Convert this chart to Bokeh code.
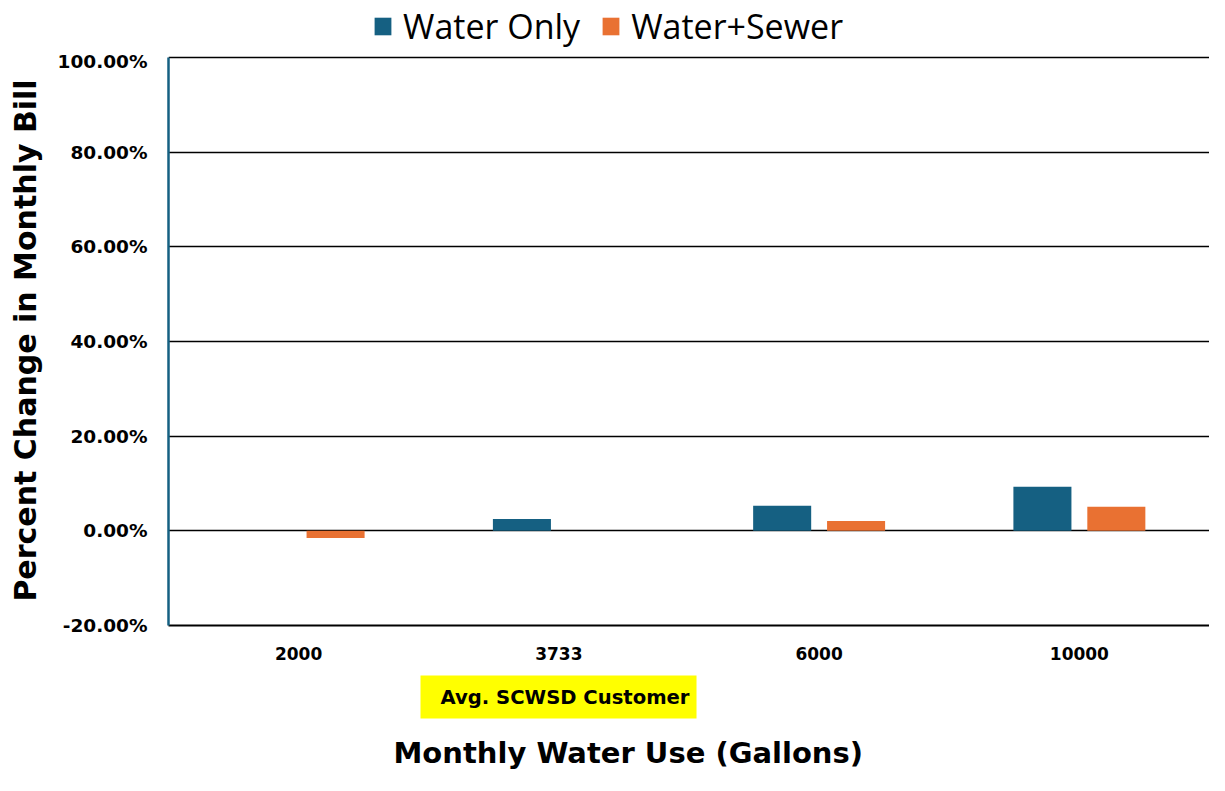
from bokeh.plotting import figure
from bokeh.layouts import column
from bokeh.models import (ColumnDataSource, FactorRange, Range1d, NumeralTickFormatter,
                          Legend, LegendItem, Title, FixedTicker)
from bokeh.transform import dodge
from bokeh.embed import file_html
from bokeh.resources import INLINE

categories = ["2000", "3733", "6000", "10000"]
water_only = [0.0, 0.025, 0.053, 0.093]
water_sewer = [-0.015, 0.0, 0.021, 0.051]
y_ticks = [-0.2, 0.0, 0.2, 0.4, 0.6, 0.8, 1.0]
series_names = ["Water Only", "Water+Sewer"]
series_colors = ["#156082", "#E97132"]

src = ColumnDataSource(dict(cat=categories, wo=water_only, ws=water_sewer))
xr = FactorRange(*categories, range_padding=0)

# ---------- legend strip (top): same series, drawn outside its visible y range ----------
lf = figure(width=1209, height=50, x_range=xr, y_range=Range1d(1, 2),
            x_axis_type=None, y_axis_type=None, output_backend="svg", toolbar_location=None,
            min_border=0)
lf.outline_line_color = None
lf.xgrid.grid_line_color = None
lf.ygrid.grid_line_color = None
l1 = lf.vbar(x=dodge("cat", -0.142, range=xr), top="wo", width=0.223, source=src,
             fill_color=series_colors[0], line_color=None)
l2 = lf.vbar(x=dodge("cat", 0.142, range=xr), top="ws", width=0.223, source=src,
             fill_color=series_colors[1], line_color=None)
legend = Legend(items=[LegendItem(label=series_names[0], renderers=[l1]),
                       LegendItem(label=series_names[1], renderers=[l2])],
                orientation="horizontal", location=(204, 1),
                label_text_font="Open Sans", label_text_font_size="34px",
                label_text_color="black",
                glyph_width=21, glyph_height=22, label_standoff=10, spacing=20,
                padding=0, margin=0, border_line_color=None,
                background_fill_alpha=0)
lf.add_layout(legend, "center")

# ---------- main chart ----------
p = figure(width=1209, height=725, x_range=xr,
           y_range=Range1d(-0.2, 1.0042), output_backend="svg", toolbar_location=None,
           min_border_left=168, min_border_right=0, min_border_top=5, min_border_bottom=150)
p.outline_line_color = None
p.background_fill_color = "white"

r1 = p.vbar(x=dodge("cat", -0.142, range=xr), top="wo", width=0.223, source=src,
            fill_color=series_colors[0], line_color=None)
r2 = p.vbar(x=dodge("cat", 0.142, range=xr), top="ws", width=0.223, source=src,
            fill_color=series_colors[1], line_color=None)

p.yaxis.ticker = FixedTicker(ticks=y_ticks)
p.yaxis.bounds = (-0.2, 1.0)
p.yaxis.formatter = NumeralTickFormatter(format="0.00%")
p.yaxis.major_label_text_font = "DejaVu Sans"
p.yaxis.major_label_text_font_style = "bold"
p.yaxis.major_label_text_font_size = "18.5px"
p.yaxis.major_label_text_color = "black"
p.yaxis.major_label_standoff = 21
p.yaxis.major_tick_line_color = None
p.yaxis.major_tick_out = 0
p.yaxis.major_tick_in = 0
p.yaxis.minor_tick_line_color = None
p.yaxis.axis_line_color = "#156082"
p.yaxis.axis_line_width = 2.5
p.yaxis.axis_label = "Percent Change in Monthly Bill"
p.yaxis.axis_label_text_font = "DejaVu Sans"
p.yaxis.axis_label_text_font_style = "bold"
p.yaxis.axis_label_text_font_size = "30px"
p.yaxis.axis_label_text_color = "black"
p.yaxis.axis_label_standoff = 12

p.xaxis.major_label_text_font = "DejaVu Sans"
p.xaxis.major_label_text_font_style = "bold"
p.xaxis.major_label_text_font_size = "17px"
p.xaxis.major_label_text_color = "black"
p.xaxis.major_label_standoff = 21
p.xaxis.major_tick_line_color = None
p.xaxis.major_tick_out = 0
p.xaxis.major_tick_in = 0
p.xaxis.axis_line_color = "black"
p.xaxis.axis_line_width = 2

p.xgrid.grid_line_color = None
p.ygrid.ticker = FixedTicker(ticks=y_ticks)
p.ygrid.grid_line_color = "black"
p.ygrid.grid_line_width = 1.5

# highlighted note under the axis
p.add_layout(Title(text="Avg. SCWSD Customer", align="left", offset=252, standoff=22,
                   text_font="DejaVu Sans", text_font_style="bold", text_font_size="19.6px",
                   text_color="black", background_fill_color="#FFFF00",
                   padding=dict(left=20, right=7, top=10, bottom=10)), "below")
# x axis title
p.add_layout(Title(text="Monthly Water Use (Gallons)", align="left", offset=225, standoff=8,
                   text_font="DejaVu Sans", text_font_style="bold", text_font_size="29px",
                   text_color="black"), "below")

layout = column(lf, p, spacing=0)
open("out.html", "w").write(file_html(layout, INLINE))
